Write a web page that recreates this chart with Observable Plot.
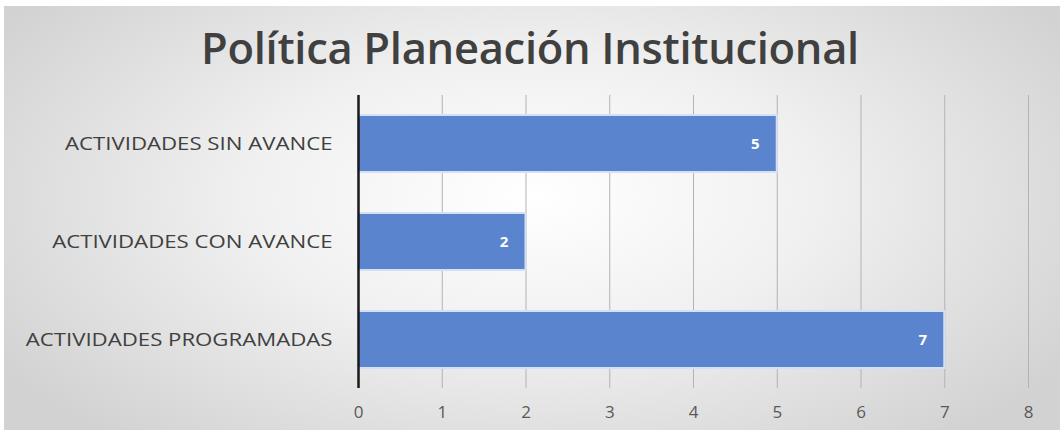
<!DOCTYPE html>
<html><head><meta charset="utf-8">
<script src="https://cdn.jsdelivr.net/npm/d3@7"></script>
<script src="https://cdn.jsdelivr.net/npm/@observablehq/plot@0.6"></script>
<style>
body{margin:0;background:#fff;}
#wrap{position:relative;width:1060px;height:434px;overflow:hidden;background:#fff;}
#panel{position:absolute;left:4px;top:6px;width:1056px;height:424px;
 background:radial-gradient(ellipse 60% 75% at 50% 45%, #ffffff 0%, #f0f0f0 45%, #d2d2d2 100%);}
#title{position:absolute;left:0;top:18px;width:1060px;text-align:center;font-family:"Open Sans",sans-serif;font-weight:600;font-size:43.5px;line-height:60px;color:#404040;letter-spacing:-0.3px;}
#chart{position:absolute;left:0;top:90px;}
</style></head>
<body><div id="wrap"><div id="panel"></div><div id="title">Política Planeación Institucional</div><div id="chart"></div></div>
<script>
const categories = ["ACTIVIDADES SIN AVANCE", "ACTIVIDADES CON AVANCE", "ACTIVIDADES PROGRAMADAS"];
const values = [5, 2, 7];
const xTicks = [0,1,2,3,4,5,6,7,8];
const data = categories.map((c,i)=>({cat:c, v:values[i]}));

const plot = Plot.plot({
  width: 1060, height: 344,
  marginLeft: 358, marginRight: 32, marginTop: 5, marginBottom: 46,
  style: {background: "transparent", fontFamily: "'Open Sans', sans-serif", overflow: "visible"},
  x: {domain: [0, 8], ticks: xTicks, label: null},
  y: {domain: categories, paddingInner: 0.42, paddingOuter: 0.2, label: null},
  marks: [
    Plot.ruleX(xTicks, {stroke: "#b3b3b3", strokeWidth: 1}),
    Plot.barX(data, {x: "v", y: "cat", fill: "#5b84cf", stroke: "#d4e0f3", strokeWidth: 2}),
    Plot.text(data, {x: "v", y: "cat", text: d => String(d.v), dx: -22, fill: "white", fontWeight: "bold", fontSize: 15}),
    Plot.ruleX([0], {stroke: "#1a1a1a", strokeWidth: 2.5}),
    Plot.axisX({ticks: xTicks, tickSize: 0, tickPadding: 17, fontSize: 17, color: "#595959", tickFormat: d => d, label: null}),
    Plot.axisY({tickSize: 0, tickPadding: 26, fontSize: 18.5, color: "#404040", label: null})
  ]
});
d3.select(plot).selectAll("g[aria-label='y-axis tick label'] text").each(function(){
  const t = d3.select(this);
  t.attr("transform", (t.attr("transform") || "") + " scale(1.2,1)");
});
document.getElementById("chart").appendChild(plot);
</script></body></html>
